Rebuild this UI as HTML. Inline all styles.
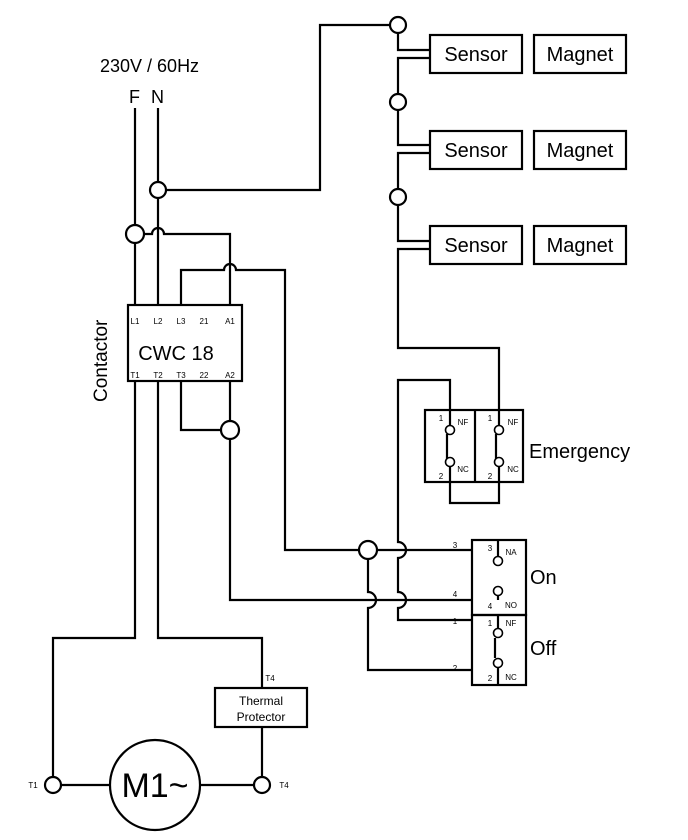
<!DOCTYPE html>
<html><head><style>body{margin:0;background:#fff}</style></head><body>
<svg width="688" height="835" xmlns="http://www.w3.org/2000/svg" font-family="'Liberation Sans', sans-serif">
<g fill="none" stroke="#000" stroke-width="2.2">
<path d="M135 108V305M158 108V305"/>
<path d="M158 190H320V25H389"/>
<path d="M144 234H152a6 6 0 0 1 12 0H230V305"/>
<path d="M181 305V270H224a6 6 0 0 1 12 0H285V550H359"/>
<path d="M377 550H472"/>
<rect x="128" y="305" width="114" height="76"/>
<path d="M135 381V638H53V776"/>
<path d="M158 381V638H262V688M262 727V776"/>
<rect x="215" y="688" width="92" height="39"/>
<path d="M62 785H110M200 785H253"/>
<circle cx="155" cy="785" r="45"/>
<path d="M181 381V430H221M230 381V421M230 439V600H472"/>
<path d="M398 34V50H430M430 58H398V93M398 111V145H430M430 153H398V188M398 206V241H430M430 249H398V348H499V410"/>
<rect x="430" y="35" width="92" height="38"/>
<rect x="534" y="35" width="92" height="38"/>
<rect x="430" y="131" width="92" height="38"/>
<rect x="534" y="131" width="92" height="38"/>
<rect x="430" y="226" width="92" height="38"/>
<rect x="534" y="226" width="92" height="38"/>
<rect x="425" y="410" width="98" height="72"/>
<path d="M475 410V482"/>
<path d="M450 410V425M450 467V503H499V467M499 410V425"/>
<path d="M447 434V459M496 434V459"/>
<path d="M450 410V380H398V542a8 8 0 0 1 0 16V592a8 8 0 0 1 0 16V620H472"/>
<rect x="472" y="540" width="54" height="75"/>
<rect x="472" y="615" width="54" height="70"/>
<path d="M498 540V556M498 615V628M498 664V685M498 596V600M495 638V658"/>
<path d="M368 559V592a8 8 0 0 1 0 16V670H472"/>
</g>
<g fill="#fff" stroke="#000" stroke-width="2.2">
<circle cx="158" cy="190" r="8"/><circle cx="135" cy="234" r="9"/>
<circle cx="398" cy="25" r="8"/><circle cx="398" cy="102" r="8"/><circle cx="398" cy="197" r="8"/>
<circle cx="230" cy="430" r="9"/><circle cx="368" cy="550" r="9"/>
<circle cx="53" cy="785" r="8"/><circle cx="262" cy="785" r="8"/>
</g>
<g fill="#fff" stroke="#000" stroke-width="1.6">
<circle cx="450" cy="430" r="4.5"/><circle cx="450" cy="462" r="4.5"/>
<circle cx="499" cy="430" r="4.5"/><circle cx="499" cy="462" r="4.5"/>
<circle cx="498" cy="561" r="4.5"/><circle cx="498" cy="591" r="4.5"/>
<circle cx="498" cy="633" r="4.5"/><circle cx="498" cy="663" r="4.5"/>
</g>
<g fill="#000">
<text x="100" y="72" font-size="18">230V / 60Hz</text>
<text x="129" y="103" font-size="18">F</text><text x="151" y="103" font-size="18">N</text>
<text transform="translate(107 402) rotate(-90)" font-size="19">Contactor</text>
<g font-size="8" text-anchor="middle">
<text x="135" y="324">L1</text><text x="158" y="324">L2</text><text x="181" y="324">L3</text><text x="204" y="324">21</text><text x="230" y="324">A1</text>
<text x="135" y="385" dy="-7">T1</text><text x="158" y="378">T2</text><text x="181" y="378">T3</text><text x="204" y="378">22</text><text x="230" y="378">A2</text>
<text x="270" y="681">T4</text><text x="33" y="788">T1</text><text x="284" y="788">T4</text>
<text x="455" y="548">3</text><text x="455" y="597">4</text><text x="455" y="624">1</text><text x="455" y="671">2</text>
<text x="490" y="551">3</text><text x="490" y="609">4</text><text x="490" y="626">1</text><text x="490" y="681">2</text>
<text x="511" y="555">NA</text><text x="511" y="608">NO</text><text x="511" y="626">NF</text><text x="511" y="680">NC</text>
<text x="441" y="421">1</text><text x="441" y="479">2</text><text x="490" y="421">1</text><text x="490" y="479">2</text>
<text x="463" y="425">NF</text><text x="463" y="472">NC</text><text x="513" y="425">NF</text><text x="513" y="472">NC</text>
</g>
<text x="176" y="360" font-size="20" text-anchor="middle">CWC 18</text>
<text x="261" y="705" font-size="12" text-anchor="middle">Thermal</text>
<text x="261" y="721" font-size="12" text-anchor="middle">Protector</text>
<text x="155" y="797" font-size="34" text-anchor="middle">M1~</text>
<g font-size="20" text-anchor="middle">
<text x="476" y="61">Sensor</text><text x="580" y="61">Magnet</text>
<text x="476" y="157">Sensor</text><text x="580" y="157">Magnet</text>
<text x="476" y="252">Sensor</text><text x="580" y="252">Magnet</text>
</g>
<text x="529" y="458" font-size="20">Emergency</text>
<text x="530" y="584" font-size="20">On</text>
<text x="530" y="655" font-size="20">Off</text>
</g>
</svg>
</body></html>
